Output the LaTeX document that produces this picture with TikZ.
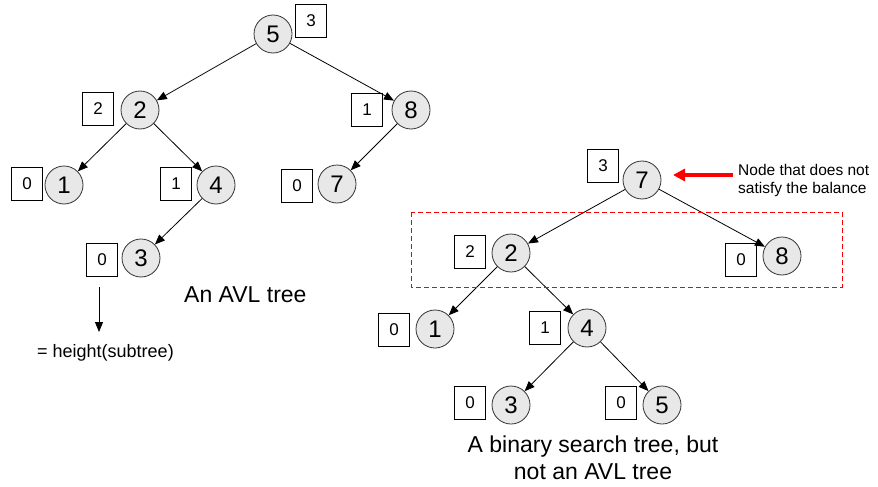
\documentclass[tikz,border=0pt]{standalone}
\usepackage{fontspec}
\setmainfont{Liberation Sans}
\usetikzlibrary{arrows.meta}
\begin{document}
\begin{tikzpicture}[x=1pt,y=-1pt,
  val/.style={circle, draw=black!80, fill=black!9, minimum size=38, inner sep=0,
    line width=0.8, font=\fontsize{24}{24}\selectfont},
  hbox/.style={rectangle, draw, minimum width=31, minimum height=33, inner sep=0,
    line width=1, font=\fontsize{17}{17}\selectfont},
  link/.style={-{Triangle[length=10,width=8]}, line width=0.8},
  caption/.style={inner sep=0, font=\fontsize{23}{27}\selectfont},
  note/.style={inner sep=0, font=\fontsize{15.5}{17.5}\selectfont}]
\useasboundingbox (0,0) rectangle (878,487);

% ---- AVL tree (left) ----
\node[val] (a5) at (273,34) {5};  \node[hbox] (ha5) at (311,21) {3};
\node[val] (a2) at (140,110) {2}; \node[hbox] (ha2) at (98,109) {2};
\node[val] (a8) at (411,110) {8}; \node[hbox] (ha8) at (367,110) {1};
\node[val] (a1) at (64,185) {1};  \node[hbox] (ha1) at (27,184) {0};
\node[val] (a4) at (216,185) {4}; \node[hbox] (ha4) at (176,184) {1};
\node[val] (a7) at (337,184) {7}; \node[hbox] (ha7) at (297,186) {0};
\node[val] (a3) at (141,258) {3}; \node[hbox] (ha3) at (102,260) {0};

\draw[link] (a5) -- (a2);
\draw[link] (a5) -- (a8);
\draw[link] (a2) -- (a1);
\draw[link] (a2) -- (a4);
\draw[link] (a8) -- (a7);
\draw[link] (a4) -- (a3);

\coordinate (ktop) at (99,287);
\coordinate (kbot) at (99,332);
\draw[link] (ktop) -- (kbot);
\node[note, font=\fontsize{18}{20}\selectfont, anchor=base west] (klabel) at (37,357) {= height(subtree)};
\node[caption, anchor=base west] (capa) at (184,302) {An AVL tree};

% ---- unbalanced binary search tree (right) ----
\node[val] (b7) at (642,180) {7}; \node[hbox] (hb7) at (603,166) {3};
\node[val] (b2) at (511,253) {2}; \node[hbox] (hb2) at (470,252) {2};
\node[val] (b8) at (782,256) {8}; \node[hbox] (hb8) at (741,260) {0};
\node[val] (b1) at (435,329) {1}; \node[hbox] (hb1) at (394,330) {0};
\node[val] (b4) at (587,328) {4}; \node[hbox] (hb4) at (545,328) {1};
\node[val] (b3) at (511,405) {3}; \node[hbox] (hb3) at (470,403) {0};
\node[val] (b5) at (662,405) {5}; \node[hbox] (hb5) at (621,403) {0};

\draw[link] (b7) -- (b2);
\draw[link] (b7) -- (b8);
\draw[link] (b2) -- (b1);
\draw[link] (b2) -- (b4);
\draw[link] (b4) -- (b3);
\draw[link] (b4) -- (b5);

\draw[red, dashed, dash pattern=on 5 off 3, line width=1] (411,212) rectangle (842,287);

\coordinate (rtail) at (733,175);
\coordinate (rhead) at (673,175);
\draw[red, line width=3.5, -{Triangle[length=12,width=12]}] (rtail) -- (rhead);
\node[note, anchor=base west, align=left] (bnote) at (738,193) {Node that does not\\satisfy the balance};

\node[caption, anchor=base, align=center] (capb) at (593,479) {A binary search tree, but\\not an AVL tree};
\end{tikzpicture}
\end{document}
